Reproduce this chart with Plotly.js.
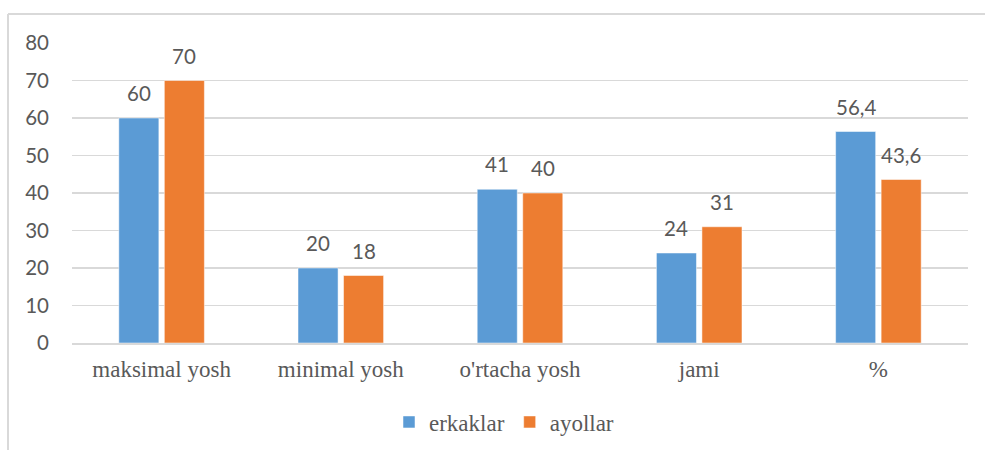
<!DOCTYPE html>
<html>
<head>
<meta charset="utf-8">
<script src="https://cdn.plot.ly/plotly-3.0.1.min.js"></script>
<style>html,body{margin:0;padding:0;background:#fff;}#chart{width:985px;height:450px;}</style>
</head>
<body>
<div id="chart"></div>
<script>
const categories = ["maksimal yosh", "minimal yosh", "o'rtacha yosh", "jami", "%"];
const erkaklar = [60, 20, 41, 24, 56.4];
const ayollar = [70, 18, 40, 31, 43.6];
const seriesNames = ["erkaklar", "ayollar"];
const yTicks = [0, 10, 20, 30, 40, 50, 60, 70, 80];

const numFont = () => ({family: "Lato", size: 20.5, color: "#595959"});
const serifFont = () => ({family: "Liberation Serif", size: 23, color: "#595959"});

const fmt = v => String(v).replace('.', ',');

const traces = [
  {type: 'bar', name: seriesNames[0], x: categories, y: erkaklar,
   marker: {color: '#5B9BD5', line: {color: '#ffffff', width: 0.5}}, hoverinfo: 'none'},
  {type: 'bar', name: seriesNames[1], x: categories, y: ayollar,
   marker: {color: '#ED7D31', line: {color: '#ffffff', width: 0.5}}, hoverinfo: 'none'}
];

const L = 72, R = 17, T = 43, B = 107, W = 985, H = 450;
const pw = W - L - R, ph = H - T - B;
const px = v => (v - L) / pw;
const py = v => (H - B - v) / ph;

const catW = pw / categories.length;
const bargap = 0.492;
const slot = catW * (1 - bargap) / 2;

const annotations = [];
[erkaklar, ayollar].forEach((arr, si) => {
  arr.forEach((v, i) => {
    annotations.push({
      x: categories[i], y: v, xref: 'x', yref: 'y',
      text: fmt(v), showarrow: false, font: numFont(),
      xanchor: 'center', yanchor: 'bottom',
      xshift: (si === 0 ? -1 : 1) * slot / 2, yshift: 11
    });
  });
});

const layout = {
  width: W, height: H,
  font: serifFont(),
  margin: {l: L, r: R, t: T, b: B, pad: 0, autoexpand: false},
  paper_bgcolor: '#ffffff', plot_bgcolor: '#ffffff',
  barmode: 'group', bargap: bargap, bargroupgap: 0.12,
  separators: ',.',
  showlegend: true,
  legend: {orientation: 'h', x: px(504), xanchor: 'center', y: py(422), yanchor: 'middle',
           font: serifFont(), itemwidth: 30, traceorder: 'normal'},
  xaxis: {type: 'category', showgrid: false, showline: true, linecolor: '#d9d9d9', linewidth: 1.5,
          ticks: '', tickfont: serifFont(), ticklabelstandoff: 5, fixedrange: true, automargin: false},
  yaxis: {range: [0, 80], tickvals: yTicks, ticktext: yTicks.map(String), showgrid: true,
          gridcolor: '#d9d9d9', gridwidth: 1.3, zeroline: false, showline: false, ticks: '',
          tickfont: numFont(), ticklabelstandoff: 22, fixedrange: true, automargin: false},
  annotations: annotations,
  shapes: [
    {type: 'line', xref: 'paper', yref: 'paper', x0: px(8), x1: px(985), y0: py(14), y1: py(14),
     line: {color: '#d9d9d9', width: 2}},
    {type: 'line', xref: 'paper', yref: 'paper', x0: px(8), x1: px(8), y0: py(14), y1: py(450),
     line: {color: '#d9d9d9', width: 2}}
  ]
};

Plotly.newPlot('chart', traces, layout, {staticPlot: true, displayModeBar: false});
</script>
</body>
</html>
